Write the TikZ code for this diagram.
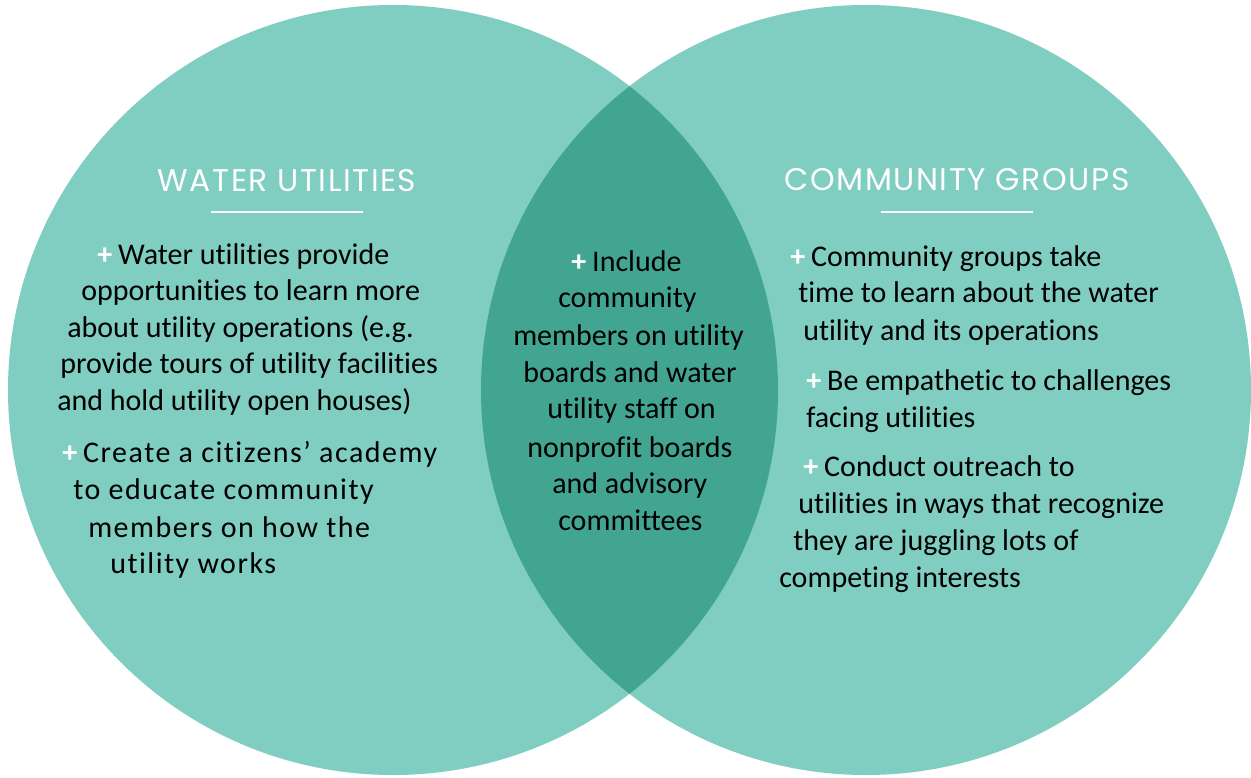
\documentclass[tikz,border=0pt]{standalone}
\usepackage{fontspec}
\setmainfont{Carlito}[Ligatures=NoCommon]
\newfontfamily\headfont{Poppins}
\definecolor{tealLight}{RGB}{128,205,193}
\definecolor{tealDark}{RGB}{66,165,146}
\newcommand{\pl}{{\color{white}\bfseries+}\hspace{4.5pt}}
\tikzset{
  body/.style={anchor=base west,inner sep=0pt,font=\fontsize{22.5}{26}\selectfont},
  wide/.style={body,font=\fontsize{22.5}{26}\selectfont\addfontfeatures{LetterSpace=5}},
  head/.style={anchor=base,inner sep=0pt,text=white,font=\headfont\fontsize{23.5}{26}\selectfont\addfontfeatures{LetterSpace=5}},
  rule/.style={draw=white,line width=1.5pt}
}

\begin{document}
\begin{tikzpicture}[x=0.75pt,y=0.75pt,yscale=-1,xscale=1]
\path[use as bounding box] (0,0) rectangle (1251,777);

%Circles
\fill[tealLight] (393,390) circle (385);
\fill[tealLight] (866,390) circle (385);
%Lens
\begin{scope}
\clip (393,390) circle (385);
\fill[tealDark] (866,390) circle (385);
\end{scope}

%Titles
\node[head] (tWater) at (287,192) {WATER UTILITIES};
\node[head] (tComm) at (957,191) {COMMUNITY GROUPS};
\draw[rule] (211,212) -- (363,212);
\draw[rule] (881,212) -- (1033,212);

% Text Node - water utilities
\node[body] (wu1) at (97,264) {\pl Water utilities provide};
\node[body] (wu2) at (81,300) {opportunities to learn more};
\node[body] (wu3) at (67,337) {about utility operations (e.g.};
\node[body] (wu4) at (60,373) {provide tours of utility facilities};
\node[body] (wu5) at (57,410) {and hold utility open houses)};
\node[wide] (wu6) at (62,462) {\pl Create a citizens’ academy};
\node[wide] (wu7) at (73,499) {to educate community};
\node[wide] (wu8) at (88,537) {members on how the};
\node[wide] (wu9) at (110,573) {utility works};

% Text Node - both
\node[body] (inc1) at (571,271) {\pl Include};
\node[body] (inc2) at (558,307) {community};
\node[body] (inc3) at (513,345) {members on utility};
\node[body] (inc4) at (523,382) {boards and water};
\node[body] (inc5) at (547,418) {utility staff on};
\node[body] (inc6) at (527,457) {nonprofit boards};
\node[body] (inc7) at (552,493) {and advisory};
\node[body] (inc8) at (558,530) {committees};

% Text Node - community groups
\node[body] (cg1) at (790,266) {\pl Community groups take};
\node[body] (cg2) at (798,302) {time to learn about the water};
\node[body] (cg3) at (803,340) {utility and its operations};
\node[body] (cg4) at (806,390) {\pl Be empathetic to challenges};
\node[body] (cg5) at (806,427) {facing utilities};
\node[body] (cg6) at (803,476) {\pl Conduct outreach to};
\node[body] (cg7) at (798,513) {utilities in ways that recognize};
\node[body] (cg8) at (793,550) {they are juggling lots of};
\node[body] (cg9) at (779,587) {competing interests};

\end{tikzpicture}
\end{document}
